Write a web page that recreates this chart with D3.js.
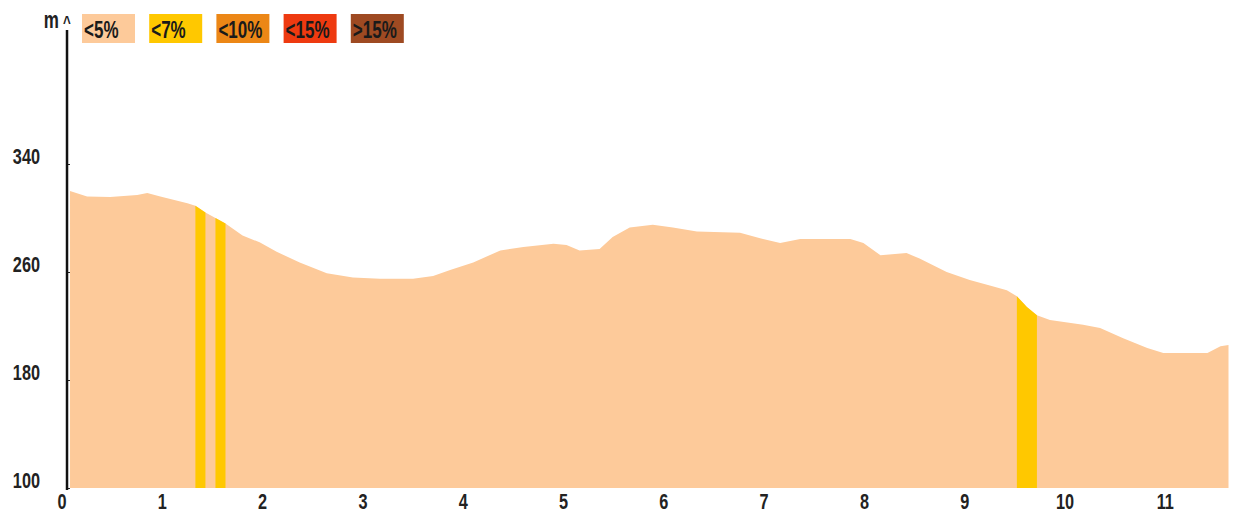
<!DOCTYPE html>
<html>
<head>
<meta charset="utf-8">
<script src="https://cdn.jsdelivr.net/npm/d3@7"></script>
<style>
  body { margin: 0; background: #fff; }
  svg text { font-family: "Liberation Sans Narrow", "Arial Narrow", "Liberation Sans", Arial, sans-serif; font-weight: bold; }
</style>
</head>
<body>
<div id="chart"></div>
<script>
// distance (km) and elevation (m)
var distKm = [0.08, 0.25, 0.48, 0.75, 0.85, 0.98, 1.25, 1.33, 1.43, 1.53, 1.63, 1.80, 1.97, 2.14, 2.37,
  2.64, 2.90, 3.17, 3.50, 3.70, 3.87, 4.10, 4.37, 4.60, 4.90, 5.03, 5.16, 5.36, 5.49, 5.66,
  5.89, 6.09, 6.33, 6.76, 6.96, 7.16, 7.36, 7.66, 7.86, 7.99, 8.16, 8.42, 8.55, 8.82, 9.05,
  9.25, 9.42, 9.52, 9.62, 9.72, 9.85, 10.18, 10.35, 10.58, 10.82, 10.98, 11.42, 11.55, 11.63];
var elevM = [320, 316, 315.6, 317, 318.5, 316, 311, 309, 304, 300, 296, 287, 282, 275, 267,
  259, 256, 255, 255, 257, 261.5, 267, 276, 278.5, 281, 280, 276, 277, 286, 293,
  295, 293, 290, 289, 285, 281.5, 284.5, 284.5, 284.5, 281.5, 272.5, 274, 270, 260, 254,
  250, 246.5, 242, 234, 228, 224.5, 221, 218.5, 211, 203.7, 200, 200, 205, 206];

// stretches drawn in the "<7%" colour
var steepFrom = [1.33, 1.53, 9.52];
var steepTo = [1.43, 1.63, 9.72];

var xTicks = [0, 1, 2, 3, 4, 5, 6, 7, 8, 9, 10, 11];
var yTicks = [100, 180, 260, 340];

var legendLabels = ["<5%", "<7%", "<10%", "<15%", ">15%"];
var legendColors = ["#fdca9a", "#ffc800", "#ec8716", "#ee3a10", "#9e4a22"];

var width = 1233, height = 513,
    squeeze = 0.74;   // the original uses a condensed face

var svg = d3.select("#chart").append("svg")
  .attr("width", width)
  .attr("height", height);

var x = d3.scaleLinear().domain([0, 11.63]).range([62, 1228.5]);
var y = d3.scaleLinear().domain([100, 340]).range([488, 164]);

var pts = distKm.map(function(d, i) { return {km: d, m: elevM[i]}; });

var area = d3.area()
  .x(function(d) { return x(d.km); })
  .y0(y(100))
  .y1(function(d) { return y(d.m); });

function narrow(sel, fx, fy) {
  sel.attr("transform", function(d, i) {
    return "translate(" + fx(d, i) + "," + fy(d, i) + ") scale(" + squeeze + ",1)";
  });
}

// y ticks under the profile
svg.append("g")
  .attr("transform", "translate(" + x(0.05) + ",0)")
  .call(d3.axisRight(y).tickValues(yTicks).tickSize(3).tickFormat(""))
  .call(function(g) { g.select(".domain").remove(); g.selectAll("line").attr("stroke", "#222"); });

svg.append("path")
  .datum(pts)
  .attr("fill", legendColors[0])
  .attr("d", area);

steepFrom.forEach(function(a, i) {
  var seg = pts.filter(function(d) { return d.km >= a - 1e-6 && d.km <= steepTo[i] + 1e-6; });
  svg.append("path")
    .datum(seg)
    .attr("fill", legendColors[1])
    .attr("d", area);
});

// y axis line
svg.append("line")
  .attr("x1", x(0.05)).attr("x2", x(0.05))
  .attr("y1", 30).attr("y2", y(100) + 2)
  .attr("stroke", "#111")
  .attr("stroke-width", 2.5);

svg.append("g").selectAll("text")
  .data(yTicks)
  .enter().append("text")
  .attr("text-anchor", "end")
  .attr("font-size", 22)
  .attr("fill", "#222")
  .text(function(d) { return d; })
  .call(narrow, function() { return 40; }, function(d) { return y(d); });

svg.append("g").selectAll("text")
  .data(xTicks)
  .enter().append("text")
  .attr("text-anchor", "middle")
  .attr("font-size", 22)
  .attr("fill", "#222")
  .text(function(d) { return d; })
  .call(narrow, function(d) { return x(d); }, function() { return 509; });

svg.append("text")
  .attr("text-anchor", "end")
  .attr("font-size", 23)
  .attr("fill", "#222")
  .text("m")
  .call(narrow, function() { return 59; }, function() { return 28; });
svg.append("text")
  .attr("text-anchor", "middle")
  .attr("font-size", 18)
  .attr("fill", "#222")
  .text("^")
  .call(narrow, function() { return x(0.05); }, function() { return 29; });

// legend
var leg = svg.append("g").selectAll("g")
  .data(legendLabels)
  .enter().append("g")
  .attr("transform", function(d, i) { return "translate(" + (82 + i * 67.2) + ",14)"; });
leg.append("rect")
  .attr("width", 53).attr("height", 29)
  .attr("fill", function(d, i) { return legendColors[i]; });
leg.append("text")
  .attr("font-size", 23)
  .attr("fill", "#1a1a1a")
  .text(function(d) { return d; })
  .call(narrow, function() { return 2; }, function() { return 23.5; });
</script>
</body>
</html>
